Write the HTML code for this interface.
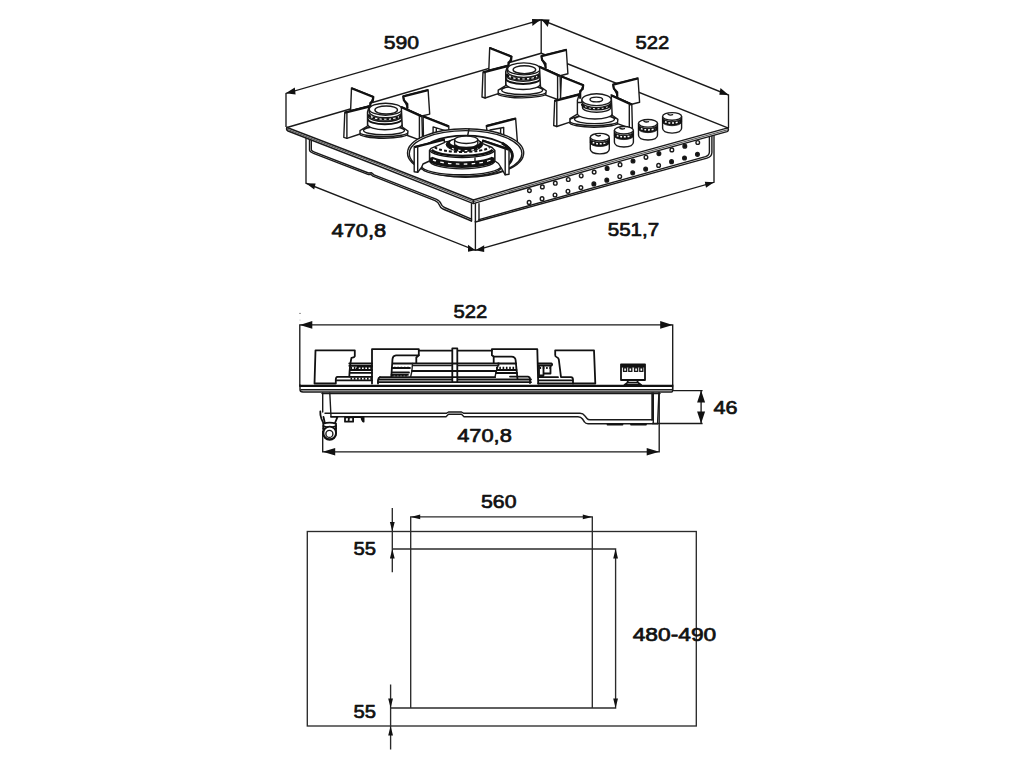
<!DOCTYPE html>
<html>
<head>
<meta charset="utf-8">
<title>Hob dimensions</title>
<style>
html,body{margin:0;padding:0;background:#fff;width:1024px;height:768px;overflow:hidden}
svg{display:block}
text{font-family:"Liberation Sans",sans-serif;fill:#111;font-size:18.9px;stroke:#111;stroke-width:0.7px;stroke-linejoin:round}
.l{stroke:#2b2b2b;stroke-width:1.35}
.d{stroke:#1a1a1a;stroke-width:1.35}
.t{stroke:#1a1a1a;stroke-width:1.4;stroke-linejoin:round;stroke-linecap:round}
.k{stroke:#111;stroke-width:1.8;stroke-linejoin:round;stroke-linecap:round}
.a{fill:#111;stroke:none}
.g{stroke:#1a1a1a;stroke-width:1.5;stroke-linejoin:round;stroke-linecap:round}
</style>
</head>
<body>
<svg width="1024" height="768" viewBox="0 0 1024 768" fill="none">
<rect width="1024" height="768" fill="#fff"/>

<!-- ============ BOTTOM: CUTOUT ============ -->
<g id="cutout">
<rect class="l" x="307.3" y="531.5" width="389" height="194.5"/>
<path class="l" d="M410.7 708V516.9H592.3V708"/>
<path class="l" d="M392.3 549H615.6V708H390.6"/>
<path class="l" d="M392.3 508V572.3M390.6 684.5V749.5"/>
<!-- arrowheads -->
<path class="a" d="M392.3 531.5l-2.4-9.5h4.8zM392.3 549l-2.4 9.500h4.8zM390.6 708l-2.400-9.500h4.800zM390.600 726l-2.400 9.500h4.800z"/>
<path class="a" d="M410.7 516.900l9.500-2.400v4.800zM592.300 516.900l-9.500-2.400v4.800zM615.600 549l-2.400 9.500h4.800zM615.600 708l-2.400-9.500h4.800z"/>
<text x="481" y="507.500" textLength="35.500" lengthAdjust="spacingAndGlyphs">560</text>
<text x="353.500" y="555.400" textLength="22.500" lengthAdjust="spacingAndGlyphs">55</text>
<text x="353.500" y="717.600" textLength="22.500" lengthAdjust="spacingAndGlyphs">55</text>
<text x="632.700" y="641.200" textLength="83.500" lengthAdjust="spacingAndGlyphs">480-490</text>
</g>

<!-- ============ MIDDLE: SIDE VIEW ============ -->
<g id="side">
<!-- dimension lines -->
<path class="d" d="M299.800 386.500V324.900H672.700V390.500"/>
<path class="d" d="M672.700 390.600H702.600M652 423.500H702.600M701.100 391V423.500"/>
<path class="d" d="M322.700 431V451.800H659.200V392.500"/>
<path class="a" d="M299.800 324.900l12.500-3.800v7.600zM672.700 324.900l-12.500-3.800v7.600zM322.700 451.800l12.500-3.800v7.600zM659.200 451.800l-12.500-3.800v7.600z"/>
<path class="a" d="M701.100 390.600l-4 12h8zM701.100 423.500l-4-12h8z"/>
<text x="453.500" y="318.300" textLength="33.800" lengthAdjust="spacingAndGlyphs">522</text>
<text x="457.200" y="442.200" textLength="54.600" lengthAdjust="spacingAndGlyphs">470,8</text>
<text x="713.500" y="413.700" textLength="24" lengthAdjust="spacingAndGlyphs">46</text>

<!-- specks --><circle cx="300" cy="313.400" r="0.700" fill="#666"/><circle cx="300" cy="320" r="0.600" fill="#bbb"/>
<!-- glass plate -->
<path class="t" d="M300 385V389.500Q300 392 303 392H671.500Q672.600 392 672.600 390.500V385" stroke-width="1.500"/>
<path d="M299.400 385.900H673.200" stroke="#111" stroke-width="2.400" fill="none"/>
<path class="t" d="M301 389.700H672M322 393.500H660"/>

<!-- grate 1 (left) -->
<path class="k" d="M315.500 350.300H354.800V356.200Q354.500 357.300 351.500 357.800Q349.800 365 349.300 376.800H337.500Q335.800 377 335.800 379.500V383.500H314.500Z" fill="#fff"/>
<!-- burner 1 -->
<path class="k" d="M349.300 363.500H372M349.300 365.800H372M335.800 380.300H372M350 376.800H372M350.500 372.800H372M349.800 370H372"/>
<path d="M350.500 367.900H372M350.500 378.600H372" stroke="#111" stroke-width="2.200" stroke-dasharray="1.600 1.700" fill="none"/>
<path class="k" d="M356.500 369.500L358 366.500H372"/>
<!-- grate 2 (big center) -->
<path class="k" d="M372 383.500V349.200H418.800V350.600H451.500M457.500 350.600H491.900V349.200H537.300L538.200 383.500" fill="none"/>
<rect class="k" x="452.300" y="348.400" width="5" height="33.800" fill="#fff"/>
<!-- arms inside -->
<path class="k" d="M418.800 350.600V355.300H396Q392.800 355.500 392.500 359L391.300 376.800"/>
<path class="k" d="M418.800 355.300L416.300 357.500V363"/>
<path class="k" d="M491.900 350.600V355.300L493.700 356.600H511.500Q515.300 356.800 515.600 360L517.500 379"/>
<path class="k" d="M493.700 356.600V363"/>
<!-- big burner -->
<path class="k" d="M393 363.500H416.300M412.500 363.500H498.800M411.900 371H496.300M410.600 377.200H495M380 377.200H410.600M379 379.500H451.500M458 379.500H531M378 382.200H451.500M458 382.200H531"/>
<path class="t" d="M412.500 365.600H451.500M458 365.600H498.800M498.800 363.500L496.300 371L495 377.200M412.500 363.500L411.900 371L410.600 377.200"/>
<path class="k" d="M380 377.200Q378.300 377.600 378 380V383.500M392.500 368H410M392 372.500H409M391.500 374.800H408"/>
<path d="M394 367.900H410M496 367.900H516M392 375.500H408" stroke="#111" stroke-width="2.200" stroke-dasharray="1.600 1.700" fill="none"/>
<path class="k" d="M498 363.500H516M497 370H516.500M496 373H517M510 376.600H528Q530 377 530 379V383"/>
<!-- small burner between grate2 and grate3 -->
<path class="k" d="M538 363.500H551.500Q552.800 364.500 551.500 365.600H538M539 365.600V375.300H543.500V373.500H550.500V366M543.500 373.500V366M538.500 377.200H558M539 380.300H573"/>
<path d="M539.500 368H550" stroke="#111" stroke-width="2.200" stroke-dasharray="1.600 1.700" fill="none"/>
<!-- grate 3 (right) -->
<path class="k" d="M555.200 350.300H594L595.300 383.500H573V379.500Q572.800 377.300 571 377.200H561L558.800 359.500Q558.500 357.800 556.500 357Q555 356.300 555.200 355Z" fill="#fff"/>
<path class="k" d="M538.200 383.500H573"/>
<!-- knob -->
<rect class="k" x="621" y="364.300" width="24" height="15.700" fill="#fff"/>
<path d="M621 366H645" stroke="#111" stroke-width="3.200" fill="none"/>
<path class="t" d="M623.600 367.800h3v3.600h-3zM628.800 367.800h3v3.600h-3zM634.600 367.800h3v3.600h-3zM639.800 367.800h3v3.600h-3z" stroke-width="1.500"/>
<path class="k" d="M628 380L627.500 382.600H637.800L637.300 380M627.500 382.600L624.500 385H641.200L637.800 382.600"/>

<!-- under-box -->
<path class="t" d="M322.700 393V412M329.800 393L331 416.500"/>
<path class="t" d="M325 413.300H446.300L448.500 412H461.500L463.800 413.300H580Q583 413.300 585 416L587 418.500Q588 419.800 590 419.800H652"/>
<path class="t" d="M337 416.700H446L448.500 414.300H461.500L464 416.700H578Q581 416.700 582.500 419L584.500 422Q585.500 423.700 588 423.700H657.600"/>
<path class="t" d="M652 393V420M653.300 393V423M658.900 393L657.600 423.500"/>
<path class="k" d="M607.500 424.600H622.500M631 424.600H646"/>
<!-- gas connector -->
<path class="k" d="M320.300 411.500Q320 415 321.500 419L323.300 423" stroke-width="2.800"/>
<path class="k" d="M323.500 417L325 424M331 416.800H337.500L334.800 423.500M345 417.300H353.100V421.700H345ZM349 417.300L348.500 421.700M353.100 417H363.500M361.500 417.300Q362 421 363.600 421.600V417.300"/>
<path class="k" d="M323.300 423.600Q329.500 421.500 336 423.600V433.500A6.350 6.350 0 0 1 323.300 433.500Z" fill="#fff"/>
<path class="k" d="M323.300 426Q329.500 428.500 336 426M323.300 428.300Q329.500 431 336 428.300"/>
<circle class="k" cx="329.700" cy="432.900" r="6.300" fill="#fff"/>
<circle class="t" cx="329.400" cy="433.900" r="3.500"/>
</g>

<!-- ============ TOP: ISOMETRIC VIEW ============ -->
<g id="iso">
<path class="d" d="M286 127V93.400L541.200 19.800L728.500 95V128M541.200 19.600V53.200"/>
<path class="d" d="M306 137.500V183.200L475.400 250.300L714 182.300V135M475.400 221V250.300"/>
<path class="a" d="M285.700 93.300l9.100-5.900l0.800 7.100zM541.200 19.300l-9.200-0.300l0.400 6.900zM541.200 19.300l8.400 0.200l-1.800 7.400zM728.700 95l-8.200-7l-1.200 6.700z"/>
<path class="a" d="M306 183.200l9.600 0.300l-1.400 5.900zM475.400 250.300l-7.400-5.600v7zM475.400 250.300l8.800-5v6.800zM714 182.300l-9.200-0.600l1.200 6.100z"/>
<text x="383.700" y="48.700" textLength="35.300" lengthAdjust="spacingAndGlyphs">590</text>
<text x="635.600" y="48.700" textLength="33.800" lengthAdjust="spacingAndGlyphs">522</text>
<text x="331.500" y="236.800" textLength="54.700" lengthAdjust="spacingAndGlyphs">470,8</text>
<text x="607.700" y="236.200" textLength="51.500" lengthAdjust="spacingAndGlyphs">551,7</text>
<path class="t" d="M309.500 138.500V150Q309.700 152 313.500 153.300L368.500 174.600L371 174.400L373 176.200L435 200.700Q438.500 202.200 439.500 205.200Q440.300 207.900 443 209L471.500 221"/>
<path class="t" d="M311.300 139.500V149.500Q311.500 151.200 314.500 152.100L368.500 173L371.500 172.800L374 174.900L436 199.100Q440 200.800 441 203.800Q441.800 206.300 444.500 207.500L471.500 219.200"/>
<path class="t" d="M471.500 203.600V221M475.400 203.600V221.500M479 203.600V220.500"/>
<path class="t" d="M475.400 222L707 158.200Q711.700 156.800 711.900 152.500V135"/>
<path class="t" d="M479 219.600L705.500 156.600Q709.300 155.400 709.400 152V135"/>
<path d="M287 127.500L541.200 53.200L727.800 127.900Q729.300 130.500 727 131.600Q600.600 165.800 473.400 203.600Q380 165.300 288 131Q285.800 129.800 287 127.500Z" fill="#fff" stroke="none"/>
<path d="M287.200 129.300Q380.200 164 473.400 201.800Q600.600 164 727.600 129.700" stroke="#555" stroke-width="1.100" fill="none"/>
<path class="g" d="M287 127.500L541.200 53.200L727.800 127.900"/>
<path class="g" d="M287 127.500Q380.200 162.700 473.400 200Q600.600 162.300 727.800 127.900"/>
<path class="g" d="M287 127.500Q285.800 129.800 288 131Q380.200 166.300 473.400 203.600Q600.600 165.900 727 131.600Q729.300 130.500 727.800 127.900M473.400 200V203.600"/>
<ellipse cx="529.4" cy="190.6" rx="1.800" ry="1.900" class="t" stroke-width="1.600" fill="#fff"/>
<ellipse cx="529.1" cy="202.4" rx="1.800" ry="1.900" class="t" stroke-width="1.600" fill="#fff"/>
<ellipse cx="542.35" cy="186.9" rx="1.800" ry="1.900" class="t" stroke-width="1.600" fill="#fff"/>
<ellipse cx="542.05" cy="198.7" rx="1.800" ry="1.900" class="t" stroke-width="1.600" fill="#fff"/>
<ellipse cx="555.3" cy="183.2" rx="1.800" ry="1.900" class="t" stroke-width="1.600" fill="#fff"/>
<ellipse cx="555" cy="195" rx="1.800" ry="1.900" class="t" stroke-width="1.600" fill="#fff"/>
<ellipse cx="568.25" cy="179.5" rx="1.800" ry="1.900" class="t" stroke-width="1.600" fill="#fff"/>
<ellipse cx="567.95" cy="191.3" rx="1.800" ry="1.900" class="t" stroke-width="1.600" fill="#fff"/>
<ellipse cx="581.2" cy="175.8" rx="1.800" ry="1.900" class="t" stroke-width="1.600" fill="#fff"/>
<ellipse cx="580.9" cy="187.6" rx="1.800" ry="1.900" class="t" stroke-width="1.600" fill="#fff"/>
<ellipse cx="594.15" cy="172.1" rx="1.800" ry="1.900" class="t" stroke-width="1.600" fill="#fff"/>
<ellipse cx="593.85" cy="183.9" rx="1.800" ry="1.900" class="t" stroke-width="1.600" fill="#111"/>
<ellipse cx="607.1" cy="168.4" rx="1.800" ry="1.900" class="t" stroke-width="1.600" fill="#111"/>
<ellipse cx="606.8" cy="180.2" rx="1.800" ry="1.900" class="t" stroke-width="1.600" fill="#111"/>
<ellipse cx="620.05" cy="164.7" rx="1.800" ry="1.900" class="t" stroke-width="1.600" fill="#fff"/>
<ellipse cx="619.75" cy="176.5" rx="1.800" ry="1.900" class="t" stroke-width="1.600" fill="#fff"/>
<ellipse cx="633" cy="161" rx="1.800" ry="1.900" class="t" stroke-width="1.600" fill="#111"/>
<ellipse cx="632.7" cy="172.8" rx="1.800" ry="1.900" class="t" stroke-width="1.600" fill="#111"/>
<ellipse cx="645.95" cy="157.3" rx="1.800" ry="1.900" class="t" stroke-width="1.600" fill="#fff"/>
<ellipse cx="645.65" cy="169.1" rx="1.800" ry="1.900" class="t" stroke-width="1.600" fill="#111"/>
<ellipse cx="658.9" cy="153.6" rx="1.800" ry="1.900" class="t" stroke-width="1.600" fill="#111"/>
<ellipse cx="658.6" cy="165.4" rx="1.800" ry="1.900" class="t" stroke-width="1.600" fill="#fff"/>
<ellipse cx="671.85" cy="149.9" rx="1.800" ry="1.900" class="t" stroke-width="1.600" fill="#fff"/>
<ellipse cx="671.55" cy="161.7" rx="1.800" ry="1.900" class="t" stroke-width="1.600" fill="#111"/>
<ellipse cx="684.8" cy="146.2" rx="1.800" ry="1.900" class="t" stroke-width="1.600" fill="#111"/>
<ellipse cx="684.5" cy="158" rx="1.800" ry="1.900" class="t" stroke-width="1.600" fill="#111"/>
<ellipse cx="697.75" cy="142.5" rx="1.800" ry="1.900" class="t" stroke-width="1.600" fill="#fff"/>
<ellipse cx="697.45" cy="154.3" rx="1.800" ry="1.900" class="t" stroke-width="1.600" fill="#111"/>
<defs>
<g id="gback">
<path class="t" d="M351.500 87.900L373.500 96.600L370 105.600L350.600 110.600Z" fill="#fff"/>
<path d="M351.500 88.300L373.300 97L372.800 100.800L370.300 103V110.500" stroke="#111" stroke-width="2.200" fill="none" stroke-linejoin="round"/>
<path class="t" d="M403.100 96L428.100 89.800L429.700 114.100L421.900 116L407.500 109.500V107.300L403.800 99.800Z" fill="#fff"/>
<path d="M407.300 108.500V104L403.900 100.200L403.300 96.500L428 90.300" stroke="#111" stroke-width="2.200" fill="none" stroke-linejoin="round"/>
</g>
<g id="gfront">
<path class="t" d="M344.800 112.300L369.400 106L367.500 112V126L360 130.500V134L346.900 138.300L343.800 137.300Z" fill="#fff"/>
<path d="M345 112.800L369.200 106.600" stroke="#111" stroke-width="2.200" fill="none"/>
<path class="t" d="M346.900 113.500V138.300" stroke-width="1.600"/>
<path class="t" d="M401.300 106.600L421.900 116L422.500 140L419.400 139.800L407.500 135.500L408 131L402.300 127Z" fill="#fff"/>
<path d="M401.500 107.200L421.800 116.500" stroke="#111" stroke-width="2.200" fill="none"/>
<path class="t" d="M419.400 116.500V139.800" stroke-width="1.600"/>
</g>
<g id="bmed">
<path class="t" d="M359 133.200A24.800 5 0 0 0 408.600 133.200V131.700A24.800 5 0 0 0 359 131.700Z" fill="#fff"/>
<ellipse class="t" cx="383.800" cy="131.700" rx="24.800" ry="5" fill="#fff"/>
<ellipse class="t" cx="384" cy="130.500" rx="20.500" ry="4.300" fill="#fff"/>
<path class="t" d="M367.500 110V124A17.400 5.800 0 0 0 402.300 124V110Z" fill="#fff"/>
<path d="M367.500 118.500A17.400 5.800 0 0 0 402.300 118.500" stroke="#111" stroke-width="2" fill="none"/>
<path class="t" d="M367.800 116.300A17.200 5.800 0 0 0 402 116.300"/>
<path d="M368.200 114.300A17 5.800 0 0 0 402 114.300" stroke="#111" stroke-width="2.600" fill="none"/>
<path d="M371 116.700A17 5.800 0 0 0 399 116.700" stroke="#fff" stroke-width="1.300" stroke-dasharray="2.200 2.300" fill="none"/>
<path class="t" d="M369.300 109.200V111.800A16.300 6 0 0 0 401.900 111.800V109.200Z" fill="#fff"/>
<ellipse class="t" cx="385.600" cy="109.200" rx="16.300" ry="6" fill="#fff" stroke-width="1.600"/>
<ellipse class="t" cx="386.200" cy="110" rx="11.300" ry="4" fill="#fff"/>
</g>
<g id="bsmall">
<path class="t" d="M569.400 122.200A24.700 5 0 0 0 618.800 122.200V120.700A24.700 5 0 0 0 569.400 120.700Z" fill="#fff"/>
<ellipse class="t" cx="594.100" cy="120.700" rx="24.700" ry="5" fill="#fff"/>
<ellipse class="t" cx="594.500" cy="119.300" rx="20" ry="4.300" fill="#fff"/>
<path class="t" d="M577.300 102.500V113.500A17.600 5.500 0 0 0 612.500 113.500V102.500Z" fill="#fff"/>
<path class="t" d="M582.500 104V107.500A14.100 4.800 0 0 0 610.700 107.500V104Z" fill="#fff"/>
<path d="M582.300 104A14.200 5 0 0 0 610.900 104" stroke="#111" stroke-width="2.800" fill="none"/>
<path d="M585 106.500A14.200 5 0 0 0 608 106.500" stroke="#fff" stroke-width="1.200" stroke-dasharray="2 2.200" fill="none"/>
<path class="t" d="M581.900 99.700V101.800A14.700 5.900 0 0 0 611.300 101.800V99.700Z" fill="#fff"/>
<ellipse class="t" cx="596.600" cy="99.700" rx="14.700" ry="5.900" fill="#fff" stroke-width="1.500"/>
<ellipse class="t" cx="596.300" cy="99.500" rx="6.300" ry="2.400" fill="#fff"/>
</g>
<g id="knob">
<path class="t" d="M590.200 136.500V148.200Q590.400 152.600 599.700 153Q609 152.600 609.200 148.200V136.500Z" fill="#fff" stroke-width="1.600"/>
<path d="M590.200 137.500A9.500 3.800 0 0 0 609.200 137.500V141.800A9.500 3.800 0 0 1 590.200 141.800Z" fill="#111" stroke="#111" stroke-width="0.800"/>
<path d="M592.600 141.600A9.500 3.800 0 0 0 606.900 141.600" stroke="#fff" stroke-width="1.500" stroke-dasharray="1.900 1.700" fill="none"/>
<ellipse class="t" cx="599.700" cy="136.300" rx="9.500" ry="3.800" fill="#fff" stroke-width="1.600"/>
<path class="t" d="M595.500 133.900Q597.500 135.700 600.200 134.600" stroke-width="1.500"/>
</g>
</defs>
<use href="#gback"/><use href="#bmed"/><use href="#gfront"/>
<g transform="translate(138.200 -40.300)"><use href="#gback"/><use href="#bmed"/><use href="#gfront"/></g>
<g transform="translate(209.900 -11.800)"><use href="#gback"/></g><use href="#bsmall"/><g transform="translate(209.900 -11.800)"><use href="#gfront"/></g>
<g id="bbig">
<path class="t" d="M423.100 116L448.800 126V130.600L436.300 137.500L423.500 139.800Z" fill="#fff"/>
<path d="M423.300 116.600L448.600 126.500" stroke="#111" stroke-width="2.200" fill="none"/>
<path class="t" d="M433.100 137.500V126.900L446 130.800M436.300 137.500V128.500"/>
<path class="t" d="M486.300 125.600L515.600 118.100L517.500 143.100L503.800 141.300L487 131Z" fill="#fff"/>
<path d="M486.500 126.100L515.400 118.700" stroke="#111" stroke-width="2.200" fill="none"/>
<path class="t" d="M490 130L503.700 127.500V141.300M500.600 128.200V140"/>
<ellipse class="t" cx="465.600" cy="153" rx="58.100" ry="24.200" fill="#fff" stroke-width="1.600"/>
<ellipse class="t" cx="465.600" cy="153.600" rx="56.300" ry="23" stroke-width="0.900"/>
<ellipse cx="465.600" cy="155.400" rx="46.900" ry="19.700" fill="#fff" stroke="#111" stroke-width="1.800"/>
<path class="t" d="M469 129L467.700 135.500"/>
<path d="M502 143Q512.500 149.500 512.400 156Q512 162.500 505 167" stroke="#111" stroke-width="2.800" fill="none"/>
<path class="t" d="M421.300 167.300A40 9 0 0 0 501.300 167.300V165.700A40 9 0 0 0 421.300 165.700Z" fill="#fff"/>
<ellipse class="t" cx="461.300" cy="165.700" rx="40" ry="9" fill="#fff"/>
<path class="t" d="M429.500 149.200V160.500A32.700 8.400 0 0 0 494.900 160.500V149.200Z" fill="#fff"/>
<path d="M429.900 157.800A32.400 7.500 0 0 0 494.500 157.800" stroke="#111" stroke-width="6.400" fill="none"/>
<path d="M433 159.800A32.400 7.500 0 0 0 491.500 159.800" stroke="#fff" stroke-width="1.300" stroke-dasharray="3.500 4.300" fill="none"/>
<path class="t" d="M475 162V158"/>
<ellipse cx="462.200" cy="149.200" rx="32.700" ry="8.400" fill="#fff" stroke="#111" stroke-width="1.400"/>
<path d="M431.800 149.800A30.800 7.200 0 0 0 492.600 149.800" stroke="#111" stroke-width="2.400" fill="none"/>
<path d="M434.800 147.200A28 6 0 0 0 489.600 147.200" stroke="#111" stroke-width="2" stroke-dasharray="3 2" fill="none"/>
<ellipse cx="464.400" cy="144.600" rx="18.300" ry="6.800" fill="#111" stroke="#111" stroke-width="1"/>
<ellipse cx="464.800" cy="142.600" rx="14.800" ry="4.200" fill="#fff" stroke="none"/>
<path d="M452 148.300A15.500 5 0 0 0 478 148.300" stroke="#fff" stroke-width="1.200" stroke-dasharray="2.500 4" fill="none"/>
<path class="t" d="M454.600 139.800V144.600A11.600 3.800 0 0 0 477.800 144.600V139.800Z" fill="#fff"/>
<path d="M455 144.800A11.600 3.800 0 0 0 477.600 144.800" stroke="#111" stroke-width="2" fill="none"/>
<ellipse class="t" cx="466.200" cy="139.800" rx="11.600" ry="3.700" fill="#fff" stroke-width="1.600"/>
<path class="t" d="M414.200 146.800L444.300 139.200V142.700L431 148.300L429.500 150.500V161L423 164L421.500 167.500L417.700 172.300L414.200 171.700Z" fill="#fff"/>
<path d="M414.400 147.300L444.100 139.800" stroke="#111" stroke-width="2.200" fill="none"/>
<path class="t" d="M417.700 146.800V172.300" stroke-width="1.600"/>
<path class="t" d="M482.700 140.200L509 149V174.300L505.200 174.800L501 167.500L498.500 163.500L494.900 161V150.500L492 147.500L482.700 143.600Z" fill="#fff"/>
<path d="M482.900 140.800L508.800 149.600" stroke="#111" stroke-width="2.200" fill="none"/>
<path class="t" d="M505.200 148.500V174.800" stroke-width="1.600"/>
</g>
<use href="#knob" transform="translate(0.1 0.9)"/>
<use href="#knob" transform="translate(24.2 -6.03)"/>
<use href="#knob" transform="translate(48.3 -12.96)"/>
<use href="#knob" transform="translate(72.4 -19.89)"/>
</g>
<!-- END TOP -->
</svg>
</body>
</html>
